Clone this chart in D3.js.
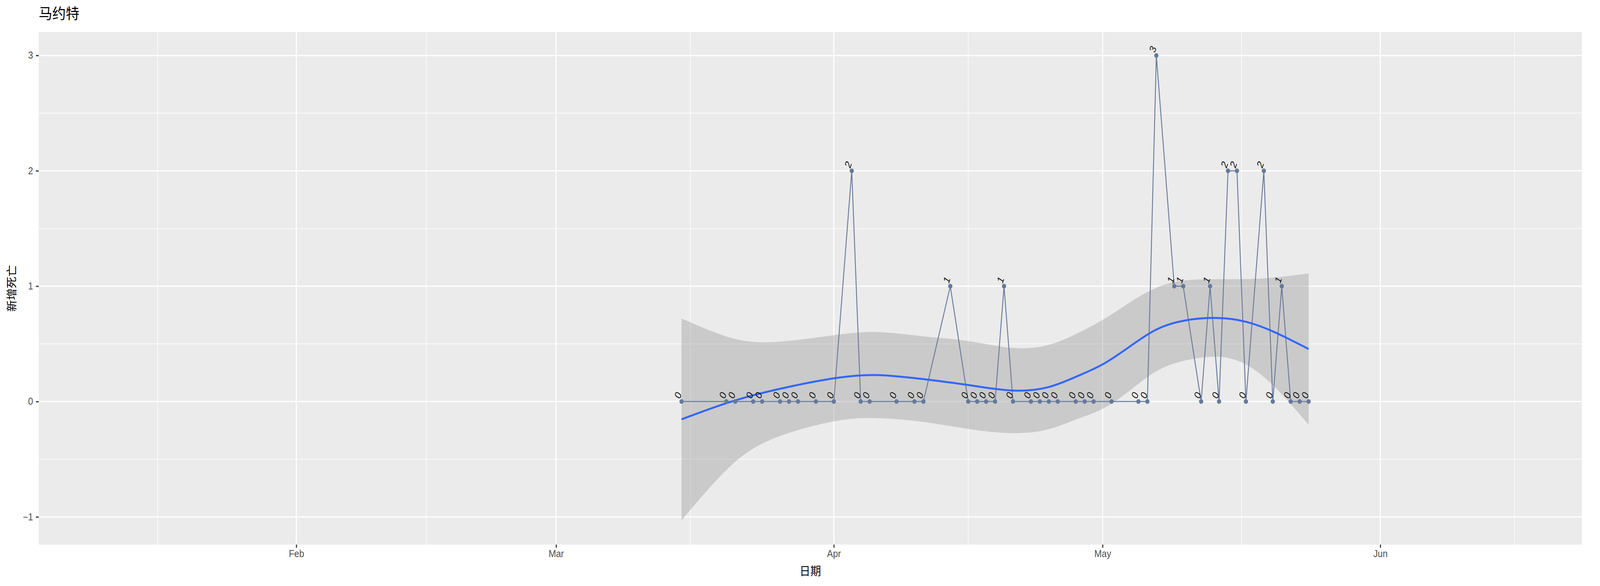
<!DOCTYPE html>
<html>
<head>
<meta charset="utf-8">
<script src="https://cdn.jsdelivr.net/npm/d3@7"></script>
<style>
html, body { margin: 0; padding: 0; background: #fff; overflow: hidden; }
svg { display: block; }
text { font-family: "Liberation Sans", "Noto Sans CJK SC", sans-serif; }
</style>
</head>
<body>
<div id="chart"></div>
<script>
// données : nouveaux décès, Mayotte
const dates = ["2020-03-15","2020-03-20","2020-03-21","2020-03-23","2020-03-24","2020-03-26","2020-03-27","2020-03-28","2020-03-30",
  "2020-04-01","2020-04-03","2020-04-04","2020-04-05","2020-04-08","2020-04-10","2020-04-11","2020-04-14","2020-04-16","2020-04-17",
  "2020-04-18","2020-04-19","2020-04-20","2020-04-21","2020-04-23","2020-04-24","2020-04-25","2020-04-26","2020-04-28",
  "2020-04-29","2020-04-30","2020-05-02","2020-05-05","2020-05-06","2020-05-07","2020-05-09","2020-05-10","2020-05-12","2020-05-13",
  "2020-05-14","2020-05-15","2020-05-16","2020-05-17","2020-05-19","2020-05-20","2020-05-21","2020-05-22","2020-05-23","2020-05-24"];
const deaths = [0,0,0,0,0,0,0,0,0,
  0,2,0,0,0,0,0,1,0,0,
  0,0,1,0,0,0,0,0,0,
  0,0,0,0,0,3,1,1,0,1,
  0,2,2,0,2,0,1,0,0,0];

// courbe lissée (loess)
const smoothDates = ["2020-03-15","2020-03-20","2020-03-24","2020-04-01","2020-04-05T12:00","2020-04-11","2020-04-16","2020-04-21",
  "2020-04-25","2020-04-28","2020-05-01","2020-05-04","2020-05-07","2020-05-10","2020-05-14","2020-05-17","2020-05-20","2020-05-24"];
const smoothFit = [-0.154,-0.01,0.08,0.21,0.243,0.195,0.146,0.08,0.11,0.216,0.31,0.475,0.64,0.71,0.734,0.70,0.615,0.455];
const smoothHi  = [0.72,0.55,0.49,0.575,0.62,0.56,0.535,0.446,0.475,0.583,0.70,0.86,1.0,1.06,1.06,1.06,1.07,1.11];
const smoothLo  = [-1.03,-0.57,-0.33,-0.155,-0.134,-0.17,-0.243,-0.286,-0.255,-0.151,-0.08,0.09,0.28,0.36,0.408,0.34,0.16,-0.2];

const yTicks = [-1,0,1,2,3];
const yMinor = [-0.5,0.5,1.5,2.5];
const xTicks = ["2020-02-01","2020-03-01","2020-04-01","2020-05-01","2020-06-01"];
const xLabels = ["Feb","Mar","Apr","May","Jun"];
const xMinor = ["2020-01-16T12:00","2020-02-15T12:00","2020-03-16","2020-04-16","2020-05-16T12:00","2020-06-16"];

const W = 4500, H = 1500;
const P = { left: 109, right: 4449, top: 82, bottom: 1394 };
const parse = s => new Date(s);

var svg = d3.select("#chart").append("svg")
  .attr("viewBox", "0 0 " + W + " " + H)
  .attr("preserveAspectRatio", "none")
  .style("width", "100vw").style("height", "100vh");

var x = d3.scaleTime()
  .domain([parse("2020-01-03T06:00"), parse("2020-06-23T12:00")])
  .range([P.left, P.right]);
var y = d3.scaleLinear().domain([-1.24, 3.203]).range([P.bottom, P.top]);

svg.append("rect").attr("x", P.left).attr("y", P.top)
  .attr("width", P.right - P.left).attr("height", P.bottom - P.top).attr("fill", "#ebebeb");

var grid = svg.append("g").attr("stroke", "#fff");
grid.selectAll(".ym").data(yMinor).join("line")
  .attr("x1", P.left).attr("x2", P.right).attr("y1", d => y(d)).attr("y2", d => y(d)).attr("stroke-width", 1.5);
grid.selectAll(".xm").data(xMinor).join("line")
  .attr("y1", P.top).attr("y2", P.bottom).attr("x1", d => x(parse(d))).attr("x2", d => x(parse(d))).attr("stroke-width", 1.5);
grid.selectAll(".yM").data(yTicks).join("line")
  .attr("x1", P.left).attr("x2", P.right).attr("y1", d => y(d)).attr("y2", d => y(d)).attr("stroke-width", 3);
grid.selectAll(".xM").data(xTicks).join("line")
  .attr("y1", P.top).attr("y2", P.bottom).attr("x1", d => x(parse(d))).attr("x2", d => x(parse(d))).attr("stroke-width", 3);

// axes
var yAxis = svg.append("g").attr("transform", "translate(" + P.left + ",0)")
  .call(d3.axisLeft(y).tickValues(yTicks).tickSize(8).tickPadding(8).tickFormat(d3.format("d")));
var xAxis = svg.append("g").attr("transform", "translate(0," + P.bottom + ")")
  .call(d3.axisBottom(x).tickValues(xTicks.map(parse)).tickSize(8).tickPadding(6)
    .tickFormat((d, i) => xLabels[i]));
[yAxis, xAxis].forEach(a => {
  a.select(".domain").remove();
  a.selectAll(".tick line").attr("stroke", "#333").attr("stroke-width", 3);
  a.selectAll(".tick text").attr("fill", "#4d4d4d").style("font-size", "25px");
});

// bande de confiance + lissage
var sm = smoothDates.map((d, i) => ({ d: parse(d), f: smoothFit[i], hi: smoothHi[i], lo: smoothLo[i] }));
svg.append("path").datum(sm)
  .attr("fill", "#999").attr("fill-opacity", 0.4)
  .attr("d", d3.area().curve(d3.curveBasis).x(d => x(d.d)).y0(d => y(d.lo)).y1(d => y(d.hi)));

var pts = dates.map((d, i) => ({ d: parse(d), v: deaths[i] }));
svg.append("path").datum(pts)
  .attr("fill", "none").attr("stroke", "#67799a").attr("stroke-width", 2.5)
  .attr("d", d3.line().x(d => x(d.d)).y(d => y(d.v)));

svg.append("path").datum(sm)
  .attr("fill", "none").attr("stroke", "#3366ff").attr("stroke-width", 5)
  .attr("d", d3.line().curve(d3.curveBasis).x(d => x(d.d)).y(d => y(d.f)));

svg.append("g").selectAll("circle").data(pts).join("circle")
  .attr("cx", d => x(d.d)).attr("cy", d => y(d.v)).attr("r", 6).attr("fill", "#67799a");

svg.append("g").selectAll("text").data(pts).join("text")
  .attr("transform", d => "translate(" + (x(d.d) - 4) + "," + (y(d.v) - 6) + ") rotate(-70)")
  .attr("text-anchor", "start")
  .attr("font-style", "italic")
  .style("font-size", "26px")
  .attr("fill", "#111")
  .text(d => d.v);

// titres
svg.append("text").attr("x", P.left).attr("y", 48).style("font-size", "38px").attr("fill", "#000")
  .style("font-family", "Noto Sans CJK SC").text("马约特");
svg.append("text").attr("x", (P.left + P.right) / 2).attr("y", 1472).attr("text-anchor", "middle")
  .style("font-size", "30px").style("font-family", "Noto Sans CJK SC").text("日期");
svg.append("text").attr("transform", "translate(44," + ((P.top + P.bottom) / 2) + ") rotate(-90)")
  .attr("text-anchor", "middle").style("font-size", "30px").style("font-family", "Noto Sans CJK SC").text("新增死亡");
</script>
</body>
</html>
